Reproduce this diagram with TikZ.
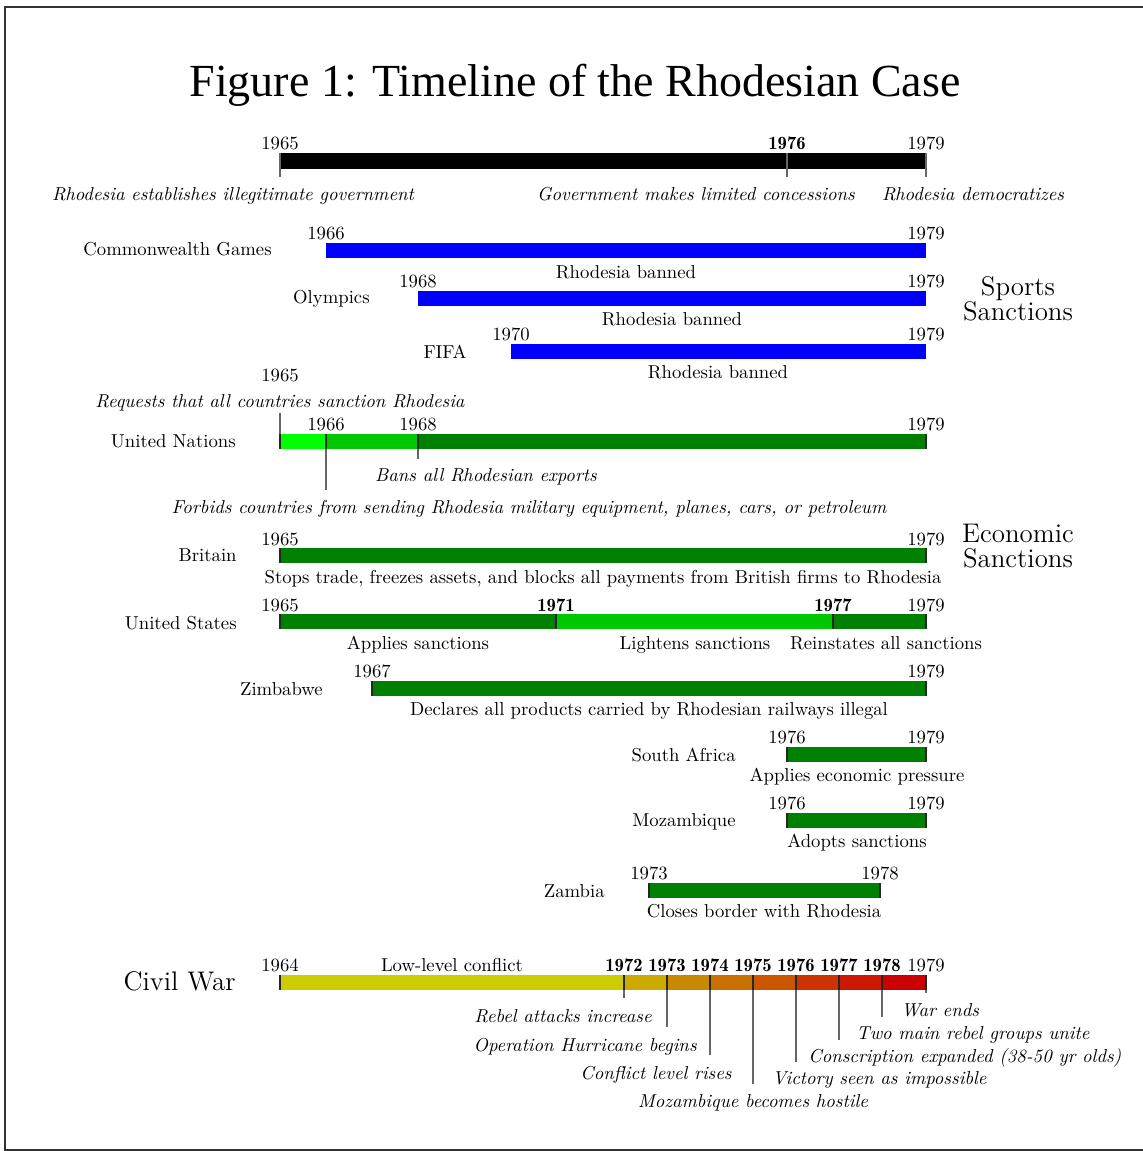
\documentclass[tikz,border=0pt]{standalone}
\usepackage{fontspec}
\newfontfamily\titlefont{Liberation Serif}
\definecolor{gA}{HTML}{00FF00}
\definecolor{gB}{HTML}{00C800}
\definecolor{gD}{HTML}{008000}
\definecolor{cw0}{HTML}{CCCC00}
\definecolor{cw1}{HTML}{CCAA00}
\definecolor{cw2}{HTML}{C88800}
\definecolor{cw3}{HTML}{C87000}
\definecolor{cw4}{HTML}{CC5500}
\definecolor{cw5}{HTML}{CC3300}
\definecolor{cw6}{HTML}{CC1800}
\definecolor{cw7}{HTML}{CC0000}
\begin{document}
\begin{tikzpicture}[x=0.535pt,y=-0.535pt,
  txt/.style={inner sep=0pt, anchor=base},
  yr/.style={txt},
  byr/.style={txt, font=\fontseries{b}\selectfont},
  ev/.style={txt, font=\itshape},
  lab/.style={inner sep=0pt, anchor=base east},
  big/.style={inner sep=0pt, font=\fontsize{14.4}{13.4}\selectfont, align=center},
  tick/.style={draw=black!60, line width=0.75pt},
  edge/.style={draw=black!85, line width=0.7pt},
  frame/.style={draw=black!80, line width=0.7pt}]
\useasboundingbox (0,0) rectangle (1143,1151);
\draw[frame] (1143,7) -- (5,7) -- (5,1150) -- (1143,1150);

% title
\node[txt, font=\titlefont\fontsize{24.6}{30}\selectfont] (title) at (575,96) {Figure 1: Timeline of the Rhodesian Case};

% top timeline
\fill[black] (280,153) rectangle (926,169);
\draw[tick] (280,153) -- (280,177);
\draw[tick] (787,153) -- (787,177);
\draw[tick] (926,153) -- (926,177);
\node[yr] (t65) at (280,149) {1965};
\node[byr] (t76) at (787,149) {1976};
\node[yr] (t79) at (926,149) {1979};
\node[ev] (te1) at (233,200) {Rhodesia establishes illegitimate government};
\node[ev] (te2) at (696,200) {Government makes limited concessions};
\node[ev] (te3) at (973,200) {Rhodesia democratizes};

% sports sanctions
\node[lab] (cgl) at (272,255) {Commonwealth Games};
\fill[blue] (326,243) rectangle (926,258);
\node[yr] (cg1) at (326,239) {1966};
\node[yr] (cg2) at (926,239) {1979};
\node[txt] (cge) at (626,278) {Rhodesia banned};

\node[lab] (oll) at (370,303) {Olympics};
\fill[blue] (418,291) rectangle (926,306);
\node[yr] (ol1) at (418,287) {1968};
\node[yr] (ol2) at (926,287) {1979};
\node[txt] (ole) at (672,325) {Rhodesia banned};

\node[lab] (ffl) at (467,358) {FIFA};
\fill[blue] (511,344) rectangle (926,359);
\node[yr] (ff1) at (511,340) {1970};
\node[yr] (ff2) at (926,340) {1979};
\node[txt] (ffe) at (718,378) {Rhodesia banned};

\node[big] (sports) at (1018,299) {Sports\\Sanctions};

% United Nations
\node[yr] (un0) at (280,381) {1965};
\node[ev] (une0) at (280,407) {Requests that all countries sanction Rhodesia};
\node[lab] (unl) at (236,447) {United Nations};
\fill[gA] (280,434) rectangle (326,449);
\fill[gB] (326,434) rectangle (418,449);
\fill[gD] (418,434) rectangle (926,449);
\draw[tick] (280,413) -- (280,449);
\draw[edge] (280,434) -- (280,449);
\draw[tick] (326,434) -- (326,490);
\draw[edge] (326,434) -- (326,449);
\draw[tick] (418,434) -- (418,459);
\draw[edge] (418,434) -- (418,449);
\draw[edge] (926,434) -- (926,449);
\node[yr] (un1) at (326,430) {1966};
\node[yr] (un2) at (418,430) {1968};
\node[yr] (un3) at (926,430) {1979};
\node[ev] (une2) at (486,481) {Bans all Rhodesian exports};
\node[ev] (une1) at (529,513) {Forbids countries from sending Rhodesia military equipment, planes, cars, or petroleum};

% Britain
\node[lab] (brl) at (237,561) {Britain};
\fill[gD] (280,548) rectangle (926,563);
\draw[edge] (280,548) -- (280,563);
\draw[edge] (926,548) -- (926,563);
\node[yr] (br1) at (280,545) {1965};
\node[yr] (br2) at (926,545) {1979};
\node[txt] (bre) at (603,583) {Stops trade, freezes assets, and blocks all payments from British firms to Rhodesia};

\node[big] (econ) at (1018,546) {Economic\\Sanctions};

% United States
\node[lab] (usl) at (237,629) {United States};
\fill[gD] (280,614) rectangle (556,629);
\fill[gB] (556,614) rectangle (833,629);
\fill[gD] (833,614) rectangle (926,629);
\draw[edge] (280,614) -- (280,629);
\draw[edge] (556,614) -- (556,629);
\draw[edge] (833,614) -- (833,629);
\draw[edge] (926,614) -- (926,629);
\node[yr] (us1) at (280,611) {1965};
\node[byr] (us2) at (556,611) {1971};
\node[byr] (us3) at (833,611) {1977};
\node[yr] (us4) at (926,611) {1979};
\node[txt] (use1) at (418,649) {Applies sanctions};
\node[txt] (use2) at (695,649) {Lightens sanctions};
\node[txt] (use3) at (886,649) {Reinstates all sanctions};

% Zimbabwe
\node[lab] (zil) at (323,695) {Zimbabwe};
\fill[gD] (372,681) rectangle (926,696);
\draw[edge] (372,681) -- (372,696);
\draw[edge] (926,681) -- (926,696);
\node[yr] (zi1) at (372,677) {1967};
\node[yr] (zi2) at (926,677) {1979};
\node[txt] (zie) at (649,715) {Declares all products carried by Rhodesian railways illegal};

% South Africa
\node[lab] (sal) at (736,761) {South Africa};
\fill[gD] (787,747) rectangle (926,762);
\draw[edge] (787,747) -- (787,762);
\draw[edge] (926,747) -- (926,762);
\node[yr] (sa1) at (787,743) {1976};
\node[yr] (sa2) at (926,743) {1979};
\node[txt] (sae) at (857,781) {Applies economic pressure};

% Mozambique
\node[lab] (mol) at (736,826) {Mozambique};
\fill[gD] (787,813) rectangle (926,828);
\draw[edge] (787,813) -- (787,828);
\draw[edge] (926,813) -- (926,828);
\node[yr] (mo1) at (787,809) {1976};
\node[yr] (mo2) at (926,809) {1979};
\node[txt] (moe) at (857,847) {Adopts sanctions};

% Zambia
\node[lab] (zal) at (605,897) {Zambia};
\fill[gD] (649,883) rectangle (880,898);
\draw[edge] (649,883) -- (649,898);
\draw[edge] (880,883) -- (880,898);
\node[yr] (za1) at (649,879) {1973};
\node[yr] (za2) at (880,879) {1978};
\node[txt] (zae) at (764,917) {Closes border with Rhodesia};

% Civil War
\node[lab, font=\Large] (cwl) at (236,990) {Civil War};
\fill[cw0] (280,975) rectangle (624,990);
\fill[cw1] (624,975) rectangle (667,990);
\fill[cw2] (667,975) rectangle (710,990);
\fill[cw3] (710,975) rectangle (753,990);
\fill[cw4] (753,975) rectangle (796,990);
\fill[cw5] (796,975) rectangle (839,990);
\fill[cw6] (839,975) rectangle (882,990);
\fill[cw7] (882,975) rectangle (926,990);
\draw[edge] (280,975) -- (280,990);
\draw[tick] (624,975) -- (624,998);
\draw[tick] (667,975) -- (667,1027);
\draw[tick] (710,975) -- (710,1055);
\draw[tick] (753,975) -- (753,1084);
\draw[tick] (796,975) -- (796,1062);
\draw[tick] (839,975) -- (839,1040);
\draw[tick] (882,975) -- (882,1017);
\draw[tick] (926,975) -- (926,993);
\foreach \x in {624,667,710,753,796,839,882,926} {\draw[edge] (\x,975) -- (\x,990);}
\node[yr] (cw64) at (280,971) {1964};
\node[txt] (cwlow) at (452,971) {Low-level conflict};
\node[byr] (cw72) at (624,971) {1972};
\node[byr] (cw73) at (667,971) {1973};
\node[byr] (cw74) at (710,971) {1974};
\node[byr] (cw75) at (753,971) {1975};
\node[byr] (cw76) at (796,971) {1976};
\node[byr] (cw77) at (839,971) {1977};
\node[byr] (cw78) at (882,971) {1978};
\node[yr] (cw79) at (926,971) {1979};
\node[ev, anchor=base east] (cwe1) at (652,1022) {Rebel attacks increase};
\node[ev, anchor=base east] (cwe2) at (697,1051) {Operation Hurricane begins};
\node[ev, anchor=base east] (cwe3) at (732,1079) {Conflict level rises};
\node[ev] (cwe4) at (753,1107) {Mozambique becomes hostile};
\node[ev, anchor=base west] (cwe5) at (772,1084) {Victory seen as impossible};
\node[ev, anchor=base west] (cwe6) at (808,1062) {Conscription expanded (38-50 yr olds)};
\node[ev, anchor=base west] (cwe7) at (856,1039) {Two main rebel groups unite};
\node[ev, anchor=base west] (cwe8) at (901,1016) {War ends};
\end{tikzpicture}
\end{document}
